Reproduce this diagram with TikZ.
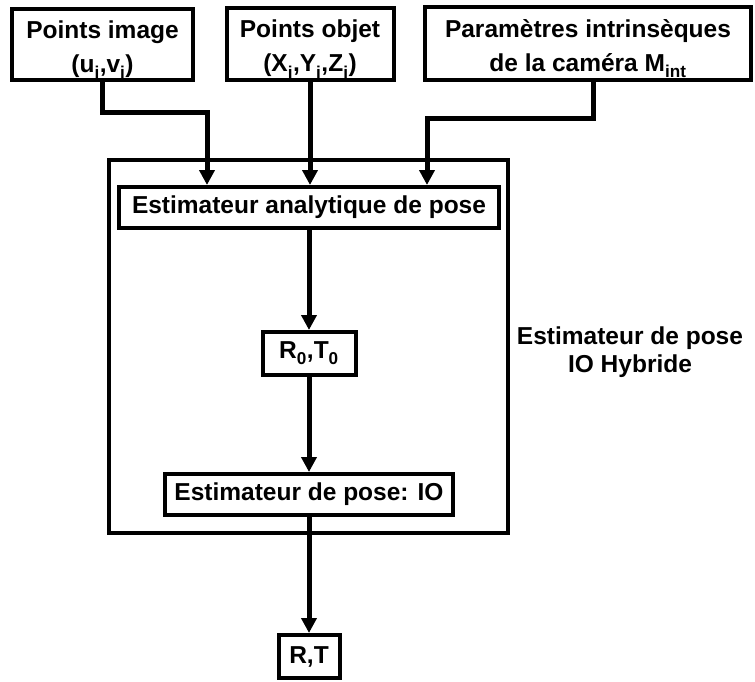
\documentclass[tikz,border=0pt]{standalone}
\usepackage{fontspec}
\setmainfont{Liberation Sans}
\usetikzlibrary{arrows.meta,calc}
\newcommand{\mysub}[1]{\raisebox{-2.5pt}{\textsubscript{#1}}}
\newcommand{\mystrut}{\rule{0pt}{28pt}}
\begin{document}
\begin{tikzpicture}[x=1pt,y=-1pt,
  box/.style={draw,line width=4pt,inner sep=0pt,align=center,
    font=\fontsize{24.5}{34}\selectfont\bfseries},
  arr/.style={line width=5pt,-{Triangle[width=15pt,length=15pt]}},
  lnk/.style={line width=5pt}]
\useasboundingbox (0,0) rectangle (755,682);
\node[box,minimum width=181pt,minimum height=71pt] (pimg) at (102.5,44.5) {\mystrut Points image\\(u\mysub{i},v\mysub{i})};
\node[box,minimum width=167pt,minimum height=72pt] (pobj) at (310,44) {\mystrut Points objet\\(X\mysub{i},Y\mysub{i},Z\mysub{i})};
\node[box,minimum width=326pt,minimum height=73pt] (ppar) at (588,43.5) {\mystrut Paramètres intrinsèques\\de la caméra M\mysub{int}};
\node[draw,line width=4pt,minimum width=399pt,minimum height=373pt,inner sep=0pt] (big) at (308.5,346.5) {};
\node[box,minimum width=380pt,minimum height=41pt] (ana) at (309,207.5) {Estimateur analytique de pose};
\node[box,minimum width=93pt,minimum height=43pt] (r0) at (309,353.5) {R\mysub{0},T\mysub{0}};
\node[box,minimum width=288pt,minimum height=41pt] (io) at (309,494.5) {Estimateur de pose: IO};
\node[box,minimum width=61pt,minimum height=43pt] (rt) at (309,656.5) {R,T};
\node[align=center,font=\fontsize{24.5}{28}\selectfont\bfseries] (lbl) at (630,352) {Estimateur de pose\\IO Hybride};
\draw[arr] (pimg.south) -- ++(0,31) -| ([xshift=90pt]ana.north west);
\draw[arr] (pobj.south) -- (pobj.south |- ana.north);
\draw[arr] ([xshift=5pt]ppar.south) -- ++(0,37) -| ([xshift=310pt]ana.north west);
\draw[arr] (ana.south) -- (r0.north);
\draw[arr] (r0.south) -- (io.north);
\draw[arr] (io.south) -- (rt.north);
\end{tikzpicture}
\end{document}
